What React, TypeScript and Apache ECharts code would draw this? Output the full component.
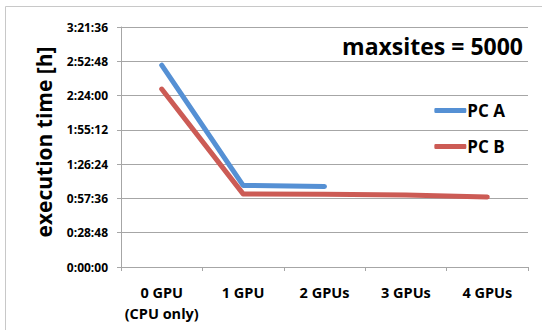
import React, { useEffect, useRef } from "react";
import * as echarts from "echarts";

// Execution time (seconds) per GPU configuration
const categories = ["0 GPU\n(CPU only)", "1 GPU", "2 GPUs", "3 GPUs", "4 GPUs"];
const pcA = [10170, 4110, 4060];
const pcB = [8970, 3685, 3665, 3625, 3530];
const seriesNames = ["PC A", "PC B"];
const chartTitle = "maxsites = 5000";
const yTitle = "execution time [h]";

const FONT = "'Open Sans', Lato, sans-serif";

function hms(v: number): string {
  const h = Math.floor(v / 3600);
  const m = Math.floor((v % 3600) / 60);
  const s = Math.round(v % 60);
  return `${h}:${String(m).padStart(2, "0")}:${String(s).padStart(2, "0")}`;
}

export default function App() {
  const ref = useRef<HTMLDivElement>(null);

  useEffect(() => {
    if (!ref.current) return;
    const chart = echarts.init(ref.current, null, { renderer: "svg" });
    chart.setOption({
      animation: false,
      backgroundColor: "#ffffff",
      textStyle: { fontFamily: FONT },
      title: {
        text: chartTitle,
        right: 14,
        top: 29,
        textStyle: { fontFamily: FONT, fontSize: 23, fontWeight: "bold", color: "#000" },
      },
      legend: {
        orient: "vertical",
        right: 32,
        top: 97,
        itemGap: 19,
        itemWidth: 32,
        itemHeight: 5,
        icon: "roundRect",
        data: seriesNames,
        textStyle: {
          fontFamily: FONT,
          fontSize: 17,
          fontWeight: "bold",
          color: "#000",
          padding: [0, 0, 0, -4],
        },
      },
      graphic: [
        {
          type: "rect",
          shape: { x: 5.5, y: 6.5, width: 540, height: 340 },
          style: { fill: "none", stroke: "#c8c8c8", lineWidth: 1 },
          silent: true,
        },
      ],
      grid: { left: 121, right: 14, top: 27, bottom: 63 },
      xAxis: {
        type: "category",
        data: categories,
        boundaryGap: true,
        axisLine: { show: true, lineStyle: { color: "#a6a6a6", width: 1 } },
        axisTick: { show: true, length: 4, lineStyle: { color: "#a6a6a6" } },
        axisLabel: {
          margin: 15,
          fontFamily: FONT,
          fontSize: 14.5,
          fontWeight: "bold",
          color: "#000",
          lineHeight: 21,
          interval: 0,
        },
      },
      yAxis: {
        type: "value",
        min: 0,
        max: 12096,
        interval: 1728,
        name: yTitle,
        nameLocation: "middle",
        nameGap: 67,
        nameTextStyle: {
          fontFamily: FONT,
          fontSize: 21,
          fontWeight: "bold",
          color: "#000",
          padding: [0, 0, 0, 10],
        },
        axisLine: { show: true, lineStyle: { color: "#a6a6a6", width: 1 } },
        axisTick: { show: true, length: 4, lineStyle: { color: "#a6a6a6" } },
        splitLine: { show: true, lineStyle: { color: "#a6a6a6", width: 1 } },
        axisLabel: {
          margin: 13,
          fontFamily: FONT,
          fontSize: 12,
          fontWeight: "bold",
          color: "#000",
          formatter: (v: number) => hms(v),
        },
      },
      series: [
        {
          name: seriesNames[0],
          type: "line",
          data: pcA,
          color: "#5590D4",
          symbol: "none",
          lineStyle: { width: 5, cap: "round", join: "round" },
        },
        {
          name: seriesNames[1],
          type: "line",
          data: pcB,
          color: "#CC5B55",
          symbol: "none",
          lineStyle: { width: 5, cap: "round", join: "round" },
        },
      ],
    });
    return () => chart.dispose();
  }, []);

  return (
    <div
      ref={ref}
      style={{ position: "fixed", left: 0, top: 0, width: 542, height: 330 }}
    />
  );
}
